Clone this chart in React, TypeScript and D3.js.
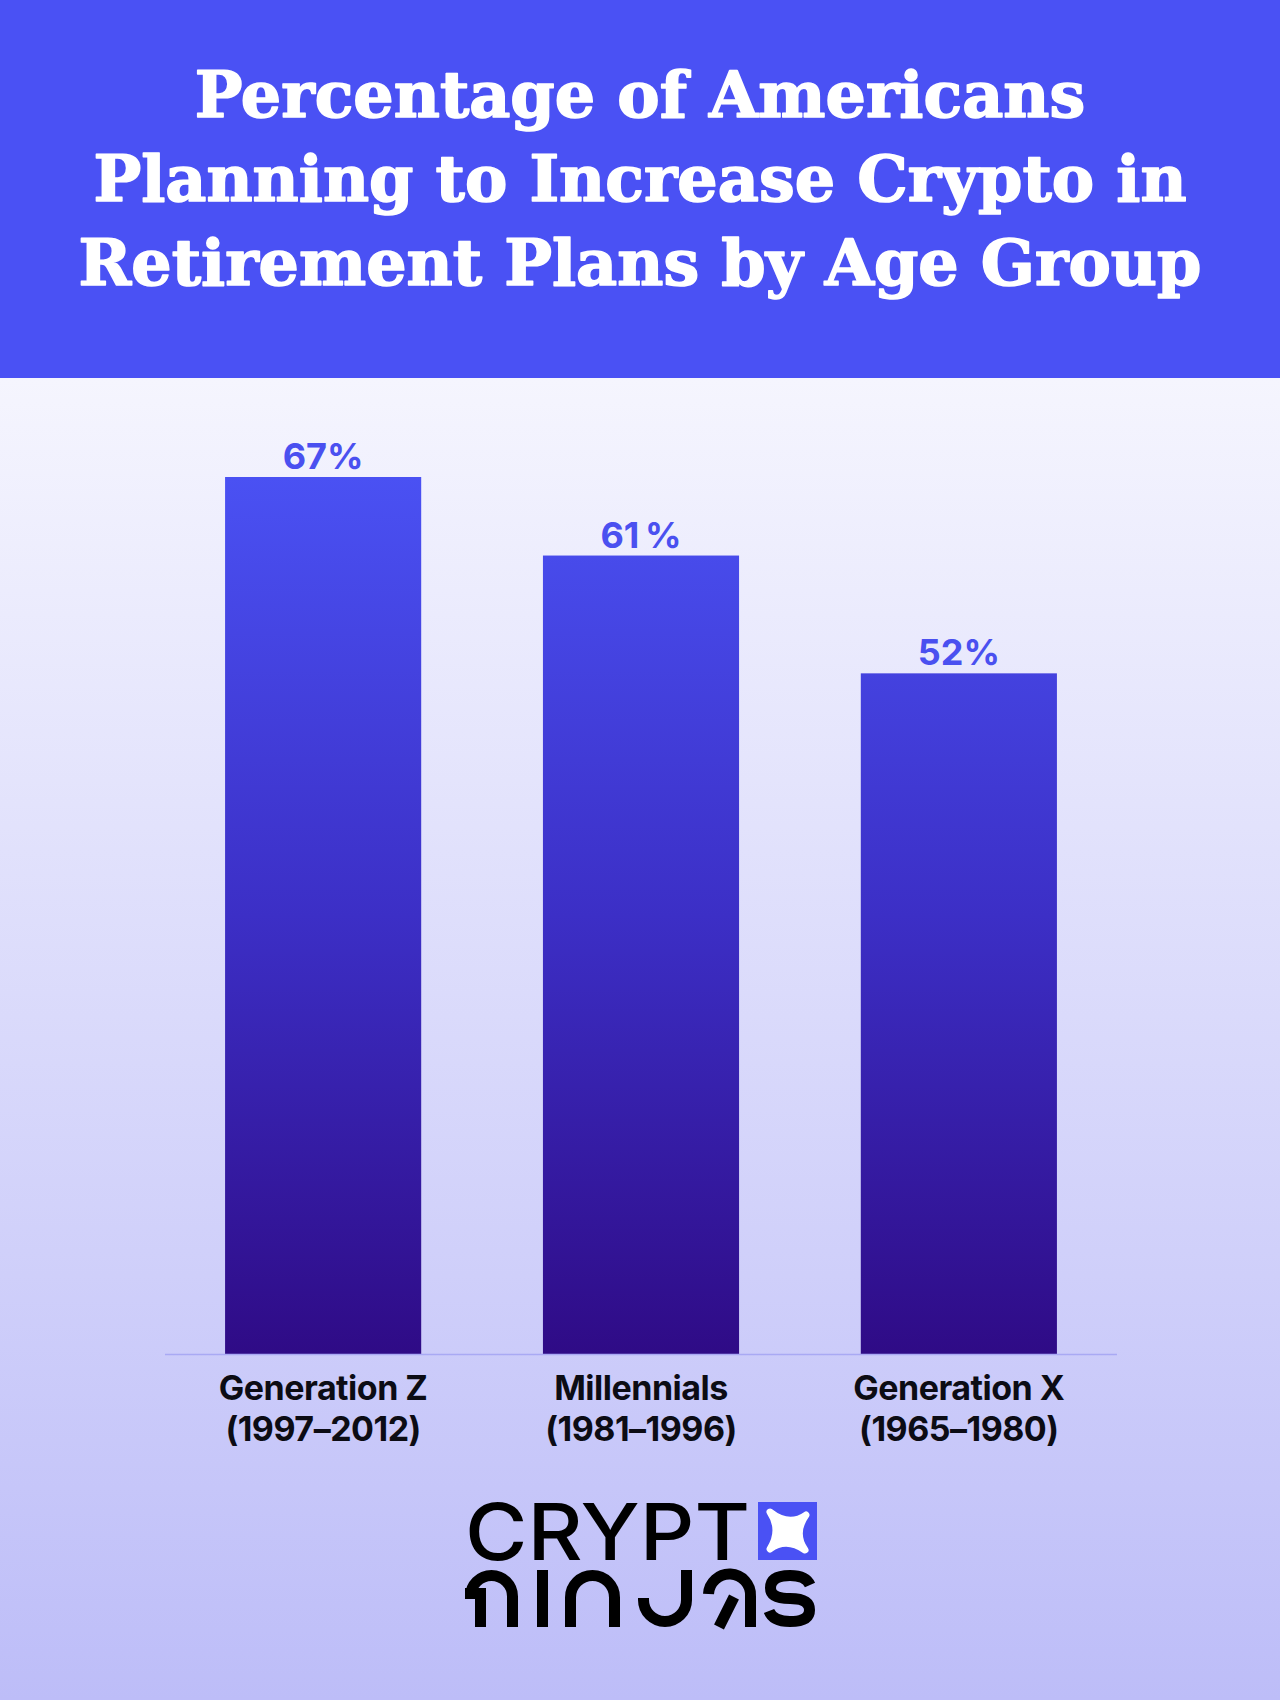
import React from "react";
import * as d3 from "d3";

const categories = ["Generation Z", "Millennials", "Generation X"];
const yearRanges = ["(1997–2012)", "(1981–1996)", "(1965–1980)"];
const values = [67, 61, 52];
const valueLabels = ["67%", "61\u2009%", "52%"];
const titleLines = [
  "Percentage of Americans",
  "Planning to Increase Crypto in",
  "Retirement Plans by Age Group",
];

const W = 1280;
const H = 1700;
const HEADER_H = 378;
const BASE_Y = 1354;
const TOP_Y = 477;

export default function App() {
  const x = d3
    .scaleBand<string>()
    .domain(categories)
    .range([165, 1117])
    .paddingInner(0.383)
    .paddingOuter(0.189);
  const y = d3.scaleLinear().domain([0, 67]).range([BASE_Y, TOP_Y]);

  const titleFont = "'DejaVu Serif', serif";
  const sans = "Inter, 'Liberation Sans', sans-serif";

  return (
    <svg
      width={W}
      height={H}
      viewBox={`0 0 ${W} ${H}`}
      style={{ position: "absolute", left: 0, top: 0, display: "block" }}
    >
      <defs>
        <linearGradient id="bg" x1="0" y1={HEADER_H} x2="0" y2={H} gradientUnits="userSpaceOnUse">
          <stop offset="0" stopColor="#f5f5fe" />
          <stop offset="1" stopColor="#bdbdf8" />
        </linearGradient>
        <linearGradient id="barGrad" x1="0" y1={TOP_Y} x2="0" y2={BASE_Y} gradientUnits="userSpaceOnUse">
          <stop offset="0" stopColor="#4a51f3" />
          <stop offset="0.5" stopColor="#3c2fc6" />
          <stop offset="1" stopColor="#2f0b86" />
        </linearGradient>
      </defs>

      <rect x={0} y={HEADER_H} width={W} height={H - HEADER_H} fill="url(#bg)" />
      <rect x={0} y={0} width={W} height={HEADER_H} fill="#4a51f4" />

      {titleLines.map((t, i) => (
        <text
          key={i}
          x={W / 2}
          y={117 + i * 84}
          textAnchor="middle"
          fill="#ffffff"
          stroke="#ffffff"
          strokeWidth={1.6}
          strokeLinejoin="round"
          fontFamily={titleFont}
          fontWeight={700}
          fontSize={63.5}
        >
          {t}
        </text>
      ))}

      {categories.map((c, i) => (
        <g key={c}>
          <rect
            x={x(c)}
            y={y(values[i])}
            width={x.bandwidth()}
            height={BASE_Y - y(values[i])}
            fill="url(#barGrad)"
          />
          <text
            x={(x(c) as number) + x.bandwidth() / 2}
            y={y(values[i]) - 8}
            textAnchor="middle"
            fill="#4a50f0"
            fontFamily={sans}
            fontWeight={700}
            fontSize={36}
          >
            {valueLabels[i]}
          </text>
          <text
            x={(x(c) as number) + x.bandwidth() / 2}
            y={1400}
            textAnchor="middle"
            fill="#0c0c14"
            fontFamily={sans}
            fontWeight={700}
            fontSize={34}
            letterSpacing={-0.5}
          >
            {c}
          </text>
          <text
            x={(x(c) as number) + x.bandwidth() / 2}
            y={1441}
            textAnchor="middle"
            fill="#0c0c14"
            fontFamily={sans}
            fontWeight={700}
            fontSize={34}
            letterSpacing={-0.5}
          >
            {yearRanges[i]}
          </text>
        </g>
      ))}

      <line x1={165} x2={1117} y1={BASE_Y + 0.5} y2={BASE_Y + 0.5} stroke="#a9a9f4" strokeWidth={1.5} />

      {/* Logo */}
      <g>
        <text
          x={465}
          y={1560}
          fill="#000"
          fontFamily={sans}
          fontWeight={500}
          fontSize={78}
          textLength={285}
          lengthAdjust="spacingAndGlyphs"
        >
          CRYPT
        </text>
        <rect x={758} y={1502} width={59} height={58} fill="#4a51f4" />
        <path
          d="M770,1512 Q789,1527 806,1515 Q793,1533 805,1550 Q786,1537 770,1549 Q782,1530 770,1512 Z"
          fill="#fff"
          stroke="#fff"
          strokeWidth={7}
          strokeLinejoin="round"
        />
        <g fill="none" stroke="#000" strokeWidth={11}>
          <path d="M470.5,1599 V1596.5 A21,21 0 0 1 512.5,1596.5 V1627" />
          <path d="M480.5,1598 V1627" />
          <path d="M542.5,1570 V1627" />
          <path d="M570.5,1627 V1597.5 A22,22 0 0 1 614.5,1597.5 V1627" />
          <path d="M643.5,1598 V1600 A21.5,21.5 0 0 0 686.5,1600 V1570" />
          <path d="M708.5,1594 A21,21 0 0 1 750.5,1596 V1627" />
          <path d="M734,1597 L719,1627" />
          <path d="M810,1585 Q806,1575.5 790,1575.5 Q770.5,1575.5 770.5,1588 Q770.5,1598.5 790,1598.5 Q809.5,1598.5 809.5,1610 Q809.5,1621.5 790,1621.5 Q773,1621.5 769,1611" />
        </g>
        <rect x={465} y={1588} width={21} height={10} fill="#000" />
      </g>
    </svg>
  );
}
